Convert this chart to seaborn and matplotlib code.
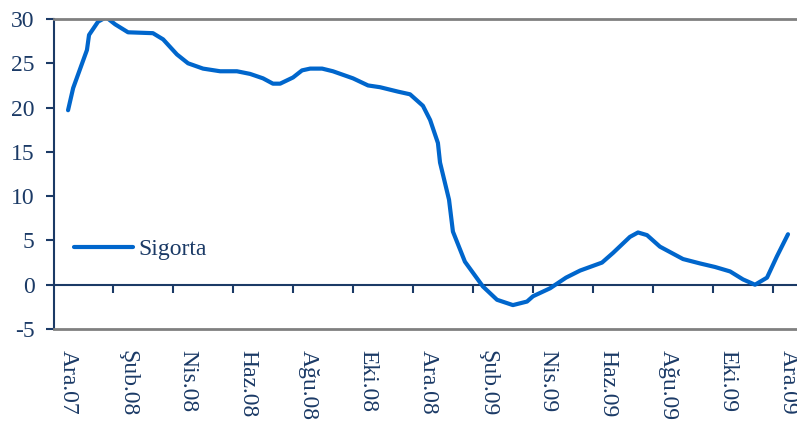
import matplotlib
matplotlib.use("Agg")
import matplotlib.pyplot as plt
import seaborn as sns
import pandas as pd

# month index (0 = Ara.07) and yearly growth (%)
months = [0.0, 0.17, 0.63, 0.7, 1.0, 1.27, 1.57, 2.0, 2.83, 3.17, 3.63, 4.0, 4.5,
          5.07, 5.63, 6.07, 6.5, 6.83, 7.07, 7.5, 7.8, 8.07, 8.47, 8.83, 9.5, 10.0,
          10.4, 11.0, 11.4, 11.83, 12.07, 12.33, 12.4, 12.7, 12.83, 13.23, 13.83,
          14.3, 14.83, 15.3, 15.5, 16.07, 16.6, 17.07, 17.8, 18.17, 18.73, 19.0,
          19.3, 19.73, 20.5, 21.07, 21.57, 22.07, 22.5, 22.9, 23.3, 23.63, 24.0]
sigorta = [19.7, 22.2, 26.5, 28.2, 29.7, 30.2, 29.4, 28.5, 28.4, 27.7, 26.0, 25.0, 24.4,
           24.1, 24.1, 23.8, 23.3, 22.7, 22.7, 23.4, 24.2, 24.4, 24.4, 24.1, 23.3, 22.5,
           22.3, 21.8, 21.5, 20.2, 18.6, 16.0, 13.8, 9.6, 6.0, 2.6, -0.2,
           -1.7, -2.3, -1.9, -1.3, -0.4, 0.8, 1.6, 2.5, 3.6, 5.4, 5.9,
           5.6, 4.3, 2.9, 2.4, 2.0, 1.5, 0.6, 0.0, 0.8, 3.2, 5.7]

label_pos = list(range(0, 25, 2))
labels = ["Ara.07", "Şub.08", "Nis.08", "Haz.08", "Ağu.08", "Eki.08", "Ara.08",
          "Şub.09", "Nis.09", "Haz.09", "Ağu.09", "Eki.09", "Ara.09"]

navy = "#1B3A66"
blue = "#0066CC"

sns.set_style("white")
plt.rcParams["font.family"] = ["Liberation Serif", "DejaVu Serif"]
plt.rcParams["axes.unicode_minus"] = False

df = pd.DataFrame({"ay": months, "Sigorta": sigorta})

fig = plt.figure(figsize=(7.97, 4.32), dpi=100)
ax = fig.add_axes([0.0678, 0.2384, 0.9322, 0.7176])

sns.lineplot(data=df, x="ay", y="Sigorta", sort=False, color=blue, linewidth=3.0,
             label="Sigorta", ax=ax)

ax.set_xlim(-0.467, 24.3)
ax.set_ylim(-5, 30)
ax.set_yticks(range(-5, 31, 5))
ax.set_xticks(label_pos)
ax.set_xticklabels(labels, rotation=270, va="top", ha="center")
ax.set_xlabel("")
ax.set_ylabel("")

ax.tick_params(axis="y", direction="out", length=6, width=1.5, color=navy,
               labelcolor=navy, labelsize=17, pad=8, left=True)
ax.tick_params(axis="x", length=0, labelcolor=navy, labelsize=17, pad=15)

for side in ["top", "bottom"]:
    ax.spines[side].set_color("#808080")
    ax.spines[side].set_linewidth(2)
ax.spines["right"].set_visible(False)
ax.spines["left"].set_color(navy)
ax.spines["left"].set_linewidth(1.5)

# zero line with tick marks between the labels
zero = ax.secondary_xaxis(5 / 35)
zero.set_xticks([p + 1.5 for p in label_pos[:-1]])
zero.set_xticklabels([])
zero.tick_params(direction="out", length=6, width=1.5, color=navy)
zero.spines["bottom"].set_color(navy)
zero.spines["bottom"].set_linewidth(1.5)

leg = ax.legend(loc="upper left", bbox_to_anchor=(0.005, 0.346), frameon=False,
                fontsize=17, handlelength=2.5, handletextpad=0.2, borderaxespad=0.3)
for t in leg.get_texts():
    t.set_color(navy)

fig.savefig("out.png", dpi=100)
